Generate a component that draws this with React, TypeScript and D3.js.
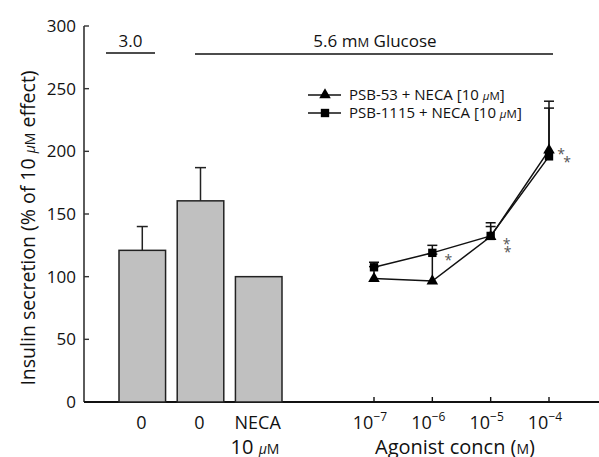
import React from 'react';
import * as d3 from 'd3';

const W = 599;
const H = 457;

// bar section
const barCats = ['0', '0 ', 'NECA'];
const barLabels = ['0', '0', 'NECA'];
const barValues = [121, 160.5, 100];
const barErrors = [140, 187, null];

// line section (agonist concentration, M)
const concs = [1e-7, 1e-6, 1e-5, 1e-4];
const psb53 = [98.5, 96.5, 132, 201];
const psb53Err = [108, 118, 140, 240];
const psb1115 = [107.5, 119, 132.5, 196];
const psb1115Err = [111.5, 125, 143, 234.5];
const yTicks = [0, 50, 100, 150, 200, 250, 300];
const expLabels = ['−7', '−6', '−5', '−4'];

const FONT = '"Open Sans", "DejaVu Sans", sans-serif';

export default function App() {
  const y = d3.scaleLinear().domain([0, 300]).range([402, 26]);
  const xBar = d3.scaleBand<string>().domain(barCats).range([119, 282]).paddingInner(0.2);
  const xLog = d3.scaleLog().domain([1e-7, 1e-4]).range([374, 549]);
  const x0 = 84;
  const y0 = y(0);

  const line = d3.line<number>().x((d, i) => xLog(concs[i])).y(d => y(d));

  const tri = d3.symbol().type(d3.symbolTriangle).size(58)();
  const sq = d3.symbol().type(d3.symbolSquare).size(70)();

  const star = (x: number, yy: number, k: string) => (
    <text key={k} x={x} y={yy} fontSize={14} fill="#555" textAnchor="middle" fontFamily={FONT}>*</text>
  );

  const micro = (fs: number) => (
    <>
      <tspan fontStyle="italic" fontSize={fs}>μ</tspan><tspan fontSize={fs}>M</tspan>
    </>
  );

  return (
    <svg width={W} height={H} style={{ position: 'absolute', left: 0, top: 0 }} fontFamily={FONT}>
      <rect width={W} height={H} fill="#fff" />
      {/* y axis */}
      <line x1={x0} x2={x0} y1={y(300)} y2={y0} stroke="#333" strokeWidth={1.6} />
      {yTicks.map(t => (
        <g key={t}>
          <line x1={x0} x2={x0 + 5} y1={y(t)} y2={y(t)} stroke="#333" strokeWidth={1.4} />
          <text x={x0 - 8} y={y(t) + 6} fontSize={17} textAnchor="end" fill="#111">{t}</text>
        </g>
      ))}
      <text transform={`translate(35,${228}) rotate(-90)`} fontSize={19.5} textAnchor="middle" fill="#111">
        Insulin secretion (% of 10 {micro(14)} effect)
      </text>
      {/* x axis */}
      <line x1={x0} x2={W} y1={y0} y2={y0} stroke="#111" strokeWidth={1.8} />

      {/* bars */}
      {barValues.map((v, i) => {
        const bx = xBar(barCats[i])!;
        const bw = xBar.bandwidth();
        const cx = bx + bw / 2;
        const e = barErrors[i];
        return (
          <g key={i}>
            {e != null && (
              <g stroke="#222" strokeWidth={1.5}>
                <line x1={cx} x2={cx} y1={y(v)} y2={y(e)} />
                <line x1={cx - 5.5} x2={cx + 5.5} y1={y(e)} y2={y(e)} />
              </g>
            )}
            <rect x={bx} y={y(v)} width={bw} height={y0 - y(v)} fill="#c0c0c0" stroke="#222" strokeWidth={1.5} />
            <text x={cx - 1} y={429} fontSize={18} textAnchor="middle" fill="#111">{barLabels[i]}</text>
          </g>
        );
      })}
      <text x={255} y={454} fontSize={20} textAnchor="middle" fill="#111">
        10 {micro(14)}
      </text>

      {/* log ticks */}
      {concs.map((c, i) => (
        <g key={c}>
          <line x1={xLog(c)} x2={xLog(c)} y1={y0} y2={y0 - 5} stroke="#111" strokeWidth={1.4} />
          <text x={xLog(c) - 4} y={429} fontSize={18} textAnchor="middle" fill="#111">
            10<tspan fontSize={12} dy={-8}>{expLabels[i]}</tspan>
          </text>
        </g>
      ))}
      <text x={455} y={454} fontSize={20} textAnchor="middle" fill="#111">
        Agonist concn (<tspan fontSize={14}>M</tspan>)
      </text>

      {/* error bars for lines */}
      {concs.map((c, i) => {
        const cx = xLog(c);
        return (
          <g key={'e' + i} stroke="#111" strokeWidth={1.5}>
            <line x1={cx} x2={cx} y1={y(psb53[i])} y2={y(psb53Err[i])} />
            <line x1={cx - 5} x2={cx + 5} y1={y(psb53Err[i])} y2={y(psb53Err[i])} />
            <line x1={cx} x2={cx} y1={y(psb1115[i])} y2={y(psb1115Err[i])} />
            <line x1={cx - 5} x2={cx + 5} y1={y(psb1115Err[i])} y2={y(psb1115Err[i])} />
          </g>
        );
      })}
      <path d={line(psb53)!} fill="none" stroke="#111" strokeWidth={1.5} />
      <path d={line(psb1115)!} fill="none" stroke="#111" strokeWidth={1.5} />
      {concs.map((c, i) => (
        <g key={'m' + i}>
          <path d={tri!} transform={`translate(${xLog(c)},${y(psb53[i])})`} fill="#000" />
          <path d={sq!} transform={`translate(${xLog(c)},${y(psb1115[i])})`} fill="#000" />
        </g>
      ))}
      {star(xLog(1e-6) + 16, y(psb1115[1]) + 12, 's1')}
      {star(xLog(1e-5) + 16, y(psb1115[2]) + 13, 's2')}
      {star(xLog(1e-5) + 17, y(psb1115[2]) + 21, 's3')}
      {star(xLog(1e-4) + 12, y(psb53[3]) + 9, 's4')}
      {star(xLog(1e-4) + 18, y(psb53[3]) + 17, 's5')}

      {/* legend */}
      <g>
        <line x1={308} x2={341} y1={95} y2={95} stroke="#111" strokeWidth={1.5} />
        <path d={tri!} transform="translate(325,95)" fill="#000" />
        <text x={349} y={100} fontSize={15} fill="#111">
          PSB-53 + NECA [10 {micro(11.5)}]
        </text>
        <line x1={308} x2={341} y1={113} y2={113} stroke="#111" strokeWidth={1.5} />
        <path d={sq!} transform="translate(325,113)" fill="#000" />
        <text x={349} y={118} fontSize={15} fill="#111">
          PSB-1115 + NECA [10 {micro(11.5)}]
        </text>
      </g>

      {/* glucose brackets */}
      <line x1={106} x2={155} y1={53} y2={53} stroke="#111" strokeWidth={1.4} />
      <text x={130.5} y={47} fontSize={17} textAnchor="middle" fill="#111">3.0</text>
      <line x1={195} x2={553} y1={54} y2={54} stroke="#111" strokeWidth={1.4} />
      <text x={375} y={47} fontSize={17} textAnchor="middle" fill="#111">
        5.6 m<tspan fontSize={13}>M</tspan> Glucose
      </text>
    </svg>
  );
}
